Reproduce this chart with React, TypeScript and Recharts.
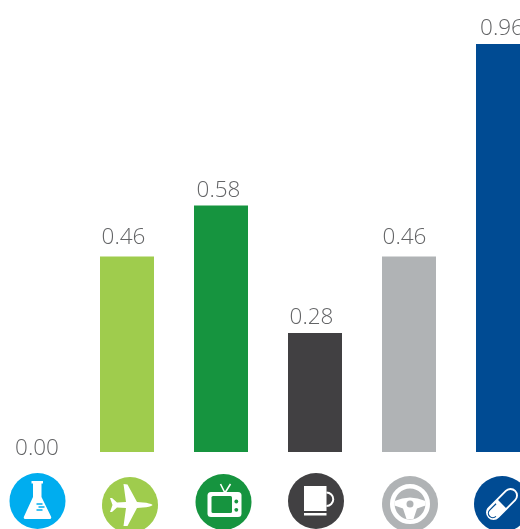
import React from 'react';
import { BarChart, Bar, Cell, XAxis, YAxis, LabelList } from 'recharts';

const categories = ['lab', 'air', 'tv', 'coffee', 'car', 'pharma'];
const values = [0.0, 0.46, 0.58, 0.28, 0.46, 0.96];
const barColors = ['#00adef', '#9fcc4d', '#16943f', '#414042', '#b0b3b5', '#004b93'];

// hand nudges so each value label sits where the layout wants it
const labelDx = [4, -3.5, -2.5, -3.5, -4.5, -1];
const labelDy = [13, -3.5, 0, 0, -3.5, 0];

const rows = categories.map((name, i) => ({ name, value: values[i] }));

function Flask() {
  return (
    <g>
      <path
        d="M-6,-20 H5.5 V-17.5 H4 V-4 L13.5,15.5 Q14.5,18 12,18 H-12 Q-14.5,18 -13.5,15.5 L-4.5,-4 V-17.5 H-6 Z"
        fill="#fff"
      />
      <path d="M-1,3 H5 M1,6 H7 M-1,9 H5" stroke="#00adef" strokeWidth={1.4} />
    </g>
  );
}

function Plane() {
  return (
    <path
      fill="#fff"
      d="M22.7,0 Q20,-2 13,-2.5 L7,-3 L-2.5,-20.5 L-6.5,-21 L-4,-3 L-13,-2.5 L-18,-7 L-20,-7 L-17.5,0 L-20,7 L-18,7 L-13,2.5 L-4,3 L-6.5,21 L-2.5,21 L7,3 L13,2.5 Q20,2 22.7,0 Z"
    />
  );
}

function Tv({ color }: { color: string }) {
  return (
    <g>
      <path d="M1,-10 L-3,-18 M2,-10 L7,-18" stroke="#fff" strokeWidth={1.6} fill="none" />
      <rect x={-16} y={-10} width={34} height={25} rx={3.5} fill="#fff" />
      <rect x={-12} y={-6} width={20.5} height={17} rx={1.5} fill={color} />
      <circle cx={12.8} cy={-0.5} r={1.9} fill={color} />
      <circle cx={12.8} cy={7.8} r={1.9} fill={color} />
    </g>
  );
}

function Cup() {
  return (
    <g>
      <rect x={-12} y={-15} width={22.5} height={25} fill="#fff" />
      <rect x={-12} y={12} width={22.5} height={2.5} fill="#fff" />
      <path d="M10.5,-8.5 A6,6 0 0 1 10.5,5" stroke="#fff" strokeWidth={2} fill="none" />
    </g>
  );
}

function Wheel({ color }: { color: string }) {
  return (
    <g>
      <circle r={17.7} fill="none" stroke="#fff" strokeWidth={4.6} />
      <path
        fill="#fff"
        d="M-15.5,-3 Q0,-10 15.5,-3 L15.5,1.5 L7,4.5 L3.5,15 H-3.5 L-7,4.5 L-15.5,1.5 Z"
      />
      <circle r={3.5} fill={color} />
    </g>
  );
}

function Pill() {
  return (
    <g transform="rotate(-45)">
      <rect x={-19.5} y={-7.5} width={39} height={15} rx={7.5} fill="#fff" />
      <path d="M0,-5.6 H12 A5.6,5.6 0 0 1 12,5.6 H0 Z" fill="#004b93" />
      <path d="M-4,-4.4 H-13 A4.4,4.4 0 0 0 -13,4.4" fill="none" stroke="#004b93" strokeWidth={1.2} />
    </g>
  );
}

// circle centres drift a little from the band centre, icon by icon
const iconShift = [
  { x: 4.5, y: 43 },
  { x: 3, y: 47 },
  { x: 2.5, y: 44 },
  { x: 1, y: 43 },
  { x: 1, y: 46 },
  { x: -1, y: 46 },
];

function IconTick({ x, y, index }: any) {
  const color = barColors[index];
  const shift = iconShift[index];
  return (
    <g transform={`translate(${x + shift.x},${y + shift.y})`}>
      <circle r={28} fill={color} />
      {index === 0 && <Flask />}
      {index === 1 && <Plane />}
      {index === 2 && <Tv color={color} />}
      {index === 3 && <Cup />}
      {index === 4 && <Wheel color={color} />}
      {index === 5 && <Pill />}
    </g>
  );
}

function ValueLabel({ x, y, width, value, index }: any) {
  return (
    <text
      x={x + width / 2 + labelDx[index]}
      y={y - 9 + labelDy[index]}
      textAnchor="middle"
      fontFamily="'Open Sans', sans-serif"
      fontWeight={300}
      fontSize={22.5}
      fill="#636466"
    >
      {Number(value).toFixed(2)}
    </text>
  );
}

export default function App() {
  return (
    <div style={{ position: 'absolute', left: 0, top: 0, width: 520, height: 529, overflow: 'hidden', willChange: 'transform' }}>
      <div style={{ position: 'absolute', left: -14, top: 0 }}>
        <BarChart
          width={564}
          height={529}
          data={rows}
          margin={{ top: 27, right: 0, bottom: 0, left: 0 }}
          barCategoryGap={20}
        >
          <XAxis
            dataKey="name"
            height={77}
            axisLine={false}
            tickLine={false}
            interval={0}
            tick={<IconTick />}
            tickMargin={0}
          />
          <YAxis hide domain={[0, 1]} />
          {/* minPointSize keeps the zero bar (and its label) in the layout; it is painted invisible */}
          <Bar dataKey="value" isAnimationActive={false} minPointSize={1}>
            {rows.map((row, i) => (
              <Cell key={row.name} fill={barColors[i]} fillOpacity={row.value === 0 ? 0 : 1} />
            ))}
            <LabelList dataKey="value" content={<ValueLabel />} />
          </Bar>
        </BarChart>
      </div>
    </div>
  );
}
